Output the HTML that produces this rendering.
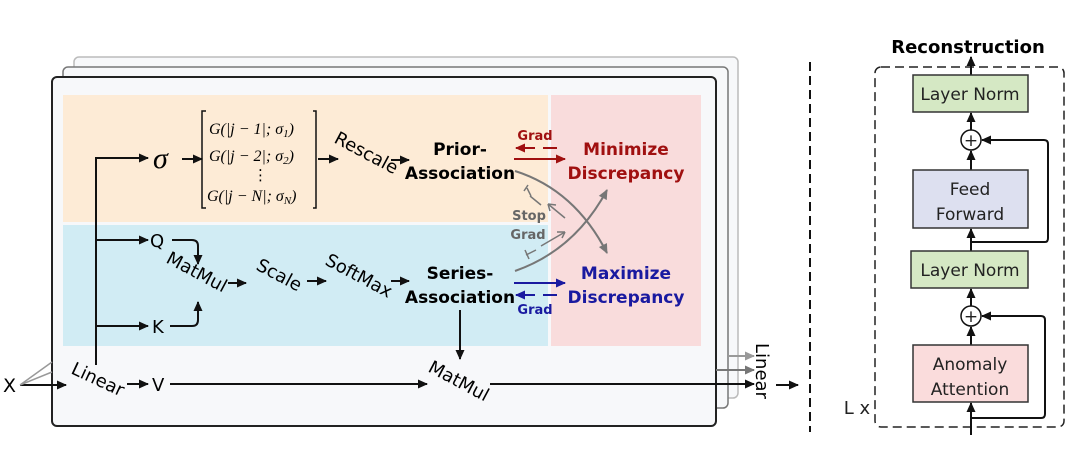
<!DOCTYPE html>
<html><head><meta charset="utf-8"><style>
body{margin:0;background:#fff}
svg{display:block;font-family:"DejaVu Sans","Liberation Sans",sans-serif}
.b{font-weight:bold}
.m{font-family:"Liberation Serif",serif;font-style:italic;font-size:16px}
</style></head><body>
<svg width="1080" height="462" viewBox="0 0 1080 462">
<defs>
<marker id="a" markerWidth="10" markerHeight="10" refX="9" refY="5" orient="auto" markerUnits="userSpaceOnUse"><path d="M0,0.5L10,5L0,9.5z" fill="#111"/></marker>
<marker id="g" markerWidth="10" markerHeight="10" refX="9" refY="5" orient="auto" markerUnits="userSpaceOnUse"><path d="M0,0.5L10,5L0,9.5z" fill="#777"/></marker>
<marker id="gl" markerWidth="10" markerHeight="10" refX="9" refY="5" orient="auto" markerUnits="userSpaceOnUse"><path d="M0,0.5L10,5L0,9.5z" fill="#999"/></marker>
<marker id="r" markerWidth="10" markerHeight="10" refX="9" refY="5" orient="auto" markerUnits="userSpaceOnUse"><path d="M0,0.5L10,5L0,9.5z" fill="#a01010"/></marker>
<marker id="bl" markerWidth="10" markerHeight="10" refX="9" refY="5" orient="auto" markerUnits="userSpaceOnUse"><path d="M0,0.5L10,5L0,9.5z" fill="#1a1aa0"/></marker>
</defs>
<rect x="74" y="57" width="664" height="341" rx="5" fill="#f7f8fa" stroke="#bbb" stroke-width="1.5"/>
<rect x="63" y="67" width="665" height="341" rx="5" fill="#f7f8fa" stroke="#777" stroke-width="1.5"/>
<rect x="52" y="77" width="664" height="349" rx="5" fill="#f7f8fa" stroke="#222" stroke-width="2"/>
<rect x="63" y="95" width="485" height="127" fill="#fdebd6"/>
<rect x="63" y="225" width="485" height="121" fill="#d1ecf4"/>
<rect x="551" y="95" width="150" height="251" fill="#f9dcdc"/>
<g stroke="#111" stroke-width="2" fill="none">
<path d="M96,365V158H148" marker-end="url(#a)"/>
<path d="M96,240H148" marker-end="url(#a)"/>
<path d="M96,326H148" marker-end="url(#a)"/>
<path d="M172,240H192Q198,240 198,246V264" marker-end="url(#a)"/>
<path d="M170,326H192Q198,326 198,320V302" marker-end="url(#a)"/>
<path d="M182,159H202" marker-end="url(#a)"/>
<path d="M318,159H338" marker-end="url(#a)"/>
<path d="M391,160H409" marker-end="url(#a)"/>
<path d="M228,283H246" marker-end="url(#a)"/>
<path d="M307,281H326" marker-end="url(#a)"/>
<path d="M391,281H409" marker-end="url(#a)"/>
<path d="M20,385H66" marker-end="url(#a)"/>
<path d="M127,384H148" marker-end="url(#a)"/>
<path d="M170,384H427" marker-end="url(#a)"/>
<path d="M460,310V359" marker-end="url(#a)"/>
<path d="M490,384H754" marker-end="url(#a)"/>
<path d="M776,385H798" marker-end="url(#a)"/>
<path d="M206,111H202V208H206M313,111H316V208H313" stroke-width="1.5"/>
</g>
<path d="M20,385L52,362M20,385L52,372" stroke="#999" stroke-width="1.5"/>
<path d="M728,356H754" stroke="#999" stroke-width="2" marker-end="url(#gl)"/>
<path d="M716,370H754" stroke="#777" stroke-width="2" marker-end="url(#g)"/>
<text x="3" y="392" font-size="19">X</text>
<text x="0" y="0" font-size="18" transform="translate(70,373) rotate(25)">Linear</text>
<text x="152" y="391" font-size="18">V</text>
<text x="150" y="247" font-size="18">Q</text>
<text x="152" y="333" font-size="18">K</text>
<text x="153" y="168" font-family="Liberation Serif,serif" font-style="italic" font-size="30">σ</text>
<text x="209" y="134" class="m">G(|j − 1|; σ<tspan font-size="11" dy="3">1</tspan><tspan dy="-3">)</tspan></text>
<text x="209" y="161" class="m">G(|j − 2|; σ<tspan font-size="11" dy="3">2</tspan><tspan dy="-3">)</tspan></text>
<text x="253" y="180" font-size="15">⋮</text>
<text x="207" y="201" class="m">G(|j − N|; σ<tspan font-size="11" dy="3">N</tspan><tspan dy="-3">)</tspan></text>
<text font-size="18" transform="translate(333,142) rotate(28)">Rescale</text>
<text font-size="18" transform="translate(165,262) rotate(28)">MatMul</text>
<text font-size="18" transform="translate(255,269) rotate(28)">Scale</text>
<text font-size="18" transform="translate(324,264) rotate(28)">SoftMax</text>
<text font-size="18" transform="translate(427,371) rotate(28)">MatMul</text>
<text font-size="18" transform="translate(756,343) rotate(90)">Linear</text>
<g class="b" font-size="17" text-anchor="middle">
<text x="460" y="155">Prior-</text><text x="460" y="179">Association</text>
<text x="460" y="279">Series-</text><text x="460" y="303">Association</text>
<text x="626" y="155" fill="#a01010">Minimize</text><text x="626" y="179" fill="#a01010">Discrepancy</text>
<text x="626" y="279" fill="#1a1aa0">Maximize</text><text x="626" y="303" fill="#1a1aa0">Discrepancy</text>
<text x="535" y="140" font-size="13" fill="#a01010">Grad</text>
<text x="535" y="314" font-size="13" fill="#1a1aa0">Grad</text>
<text x="529" y="220" font-size="13" fill="#666">Stop</text>
<text x="528" y="239" font-size="13" fill="#666">Grad</text>
</g>
<path d="M514,159H565" stroke="#a01010" stroke-width="2" marker-end="url(#r)"/>
<path d="M557,148H543M535,148H516" stroke="#a01010" stroke-width="2" marker-end="url(#r)"/>
<path d="M514,283H565" stroke="#1a1aa0" stroke-width="2" marker-end="url(#bl)"/>
<path d="M557,295H543M535,295H516" stroke="#1a1aa0" stroke-width="2" marker-end="url(#bl)"/>
<g stroke="#777" stroke-width="2" fill="none">
<path d="M515,171Q575,190 607,253" marker-end="url(#g)"/>
<path d="M515,271Q575,250 607,190" marker-end="url(#g)"/>
<path d="M565,218L548,204" stroke-width="1.5"/><path d="M548,204l8,1M548,204l2,7" stroke-width="1.5"/>
<path d="M541,205L530,196M524,191l4,-6" stroke-width="1.5"/><path d="M527,188L531,196" stroke-width="1.5"/>
<path d="M541,246L565,232" stroke-width="1.5"/><path d="M565,232l-8,0M565,232l-3,6" stroke-width="1.5"/>
<path d="M536,250L526,255M525,250l4,9" stroke-width="1.5"/>
</g>
<path d="M810,62V432" stroke="#111" stroke-width="2" stroke-dasharray="9,5"/>
<text x="968" y="53" class="b" font-size="18" text-anchor="middle">Reconstruction</text>
<rect x="875" y="67" width="189" height="360" rx="6" fill="none" stroke="#222" stroke-width="1.5" stroke-dasharray="9,5"/>
<g stroke="#111" stroke-width="2" fill="none">
<path d="M971,75V57" marker-end="url(#a)"/>
<path d="M971,130V113" marker-end="url(#a)"/>
<path d="M971,170V151" marker-end="url(#a)"/>
<path d="M971,251V229" marker-end="url(#a)"/>
<path d="M971,242H1045Q1048,242 1048,238V144Q1048,140 1044,140H982" marker-end="url(#a)"/>
<path d="M971,306V289" marker-end="url(#a)"/>
<path d="M971,345V327" marker-end="url(#a)"/>
<path d="M971,435V403" marker-end="url(#a)"/>
<path d="M971,418H1041Q1045,418 1045,414V320Q1045,316 1041,316H982" marker-end="url(#a)"/>
</g>
<rect x="913" y="75" width="115" height="37" fill="#d5e8c4" stroke="#333" stroke-width="1.5"/>
<rect x="913" y="170" width="115" height="58" fill="#dde0f0" stroke="#333" stroke-width="1.5"/>
<rect x="911" y="251" width="117" height="37" fill="#d5e8c4" stroke="#333" stroke-width="1.5"/>
<rect x="913" y="345" width="115" height="57" fill="#fadcdc" stroke="#333" stroke-width="1.5"/>
<circle cx="971" cy="140" r="10" fill="#fff" stroke="#111" stroke-width="1.5"/>
<circle cx="971" cy="316" r="10" fill="#fff" stroke="#111" stroke-width="1.5"/>
<g font-size="17" text-anchor="middle" fill="#222">
<text x="971" y="146">+</text><text x="971" y="322">+</text>
<text x="970" y="100">Layer Norm</text>
<text x="970" y="195">Feed</text><text x="970" y="220">Forward</text>
<text x="970" y="276">Layer Norm</text>
<text x="970" y="370">Anomaly</text><text x="970" y="395">Attention</text>
<text x="857" y="414" font-size="18">L x</text>
</g>
</svg>
</body></html>
